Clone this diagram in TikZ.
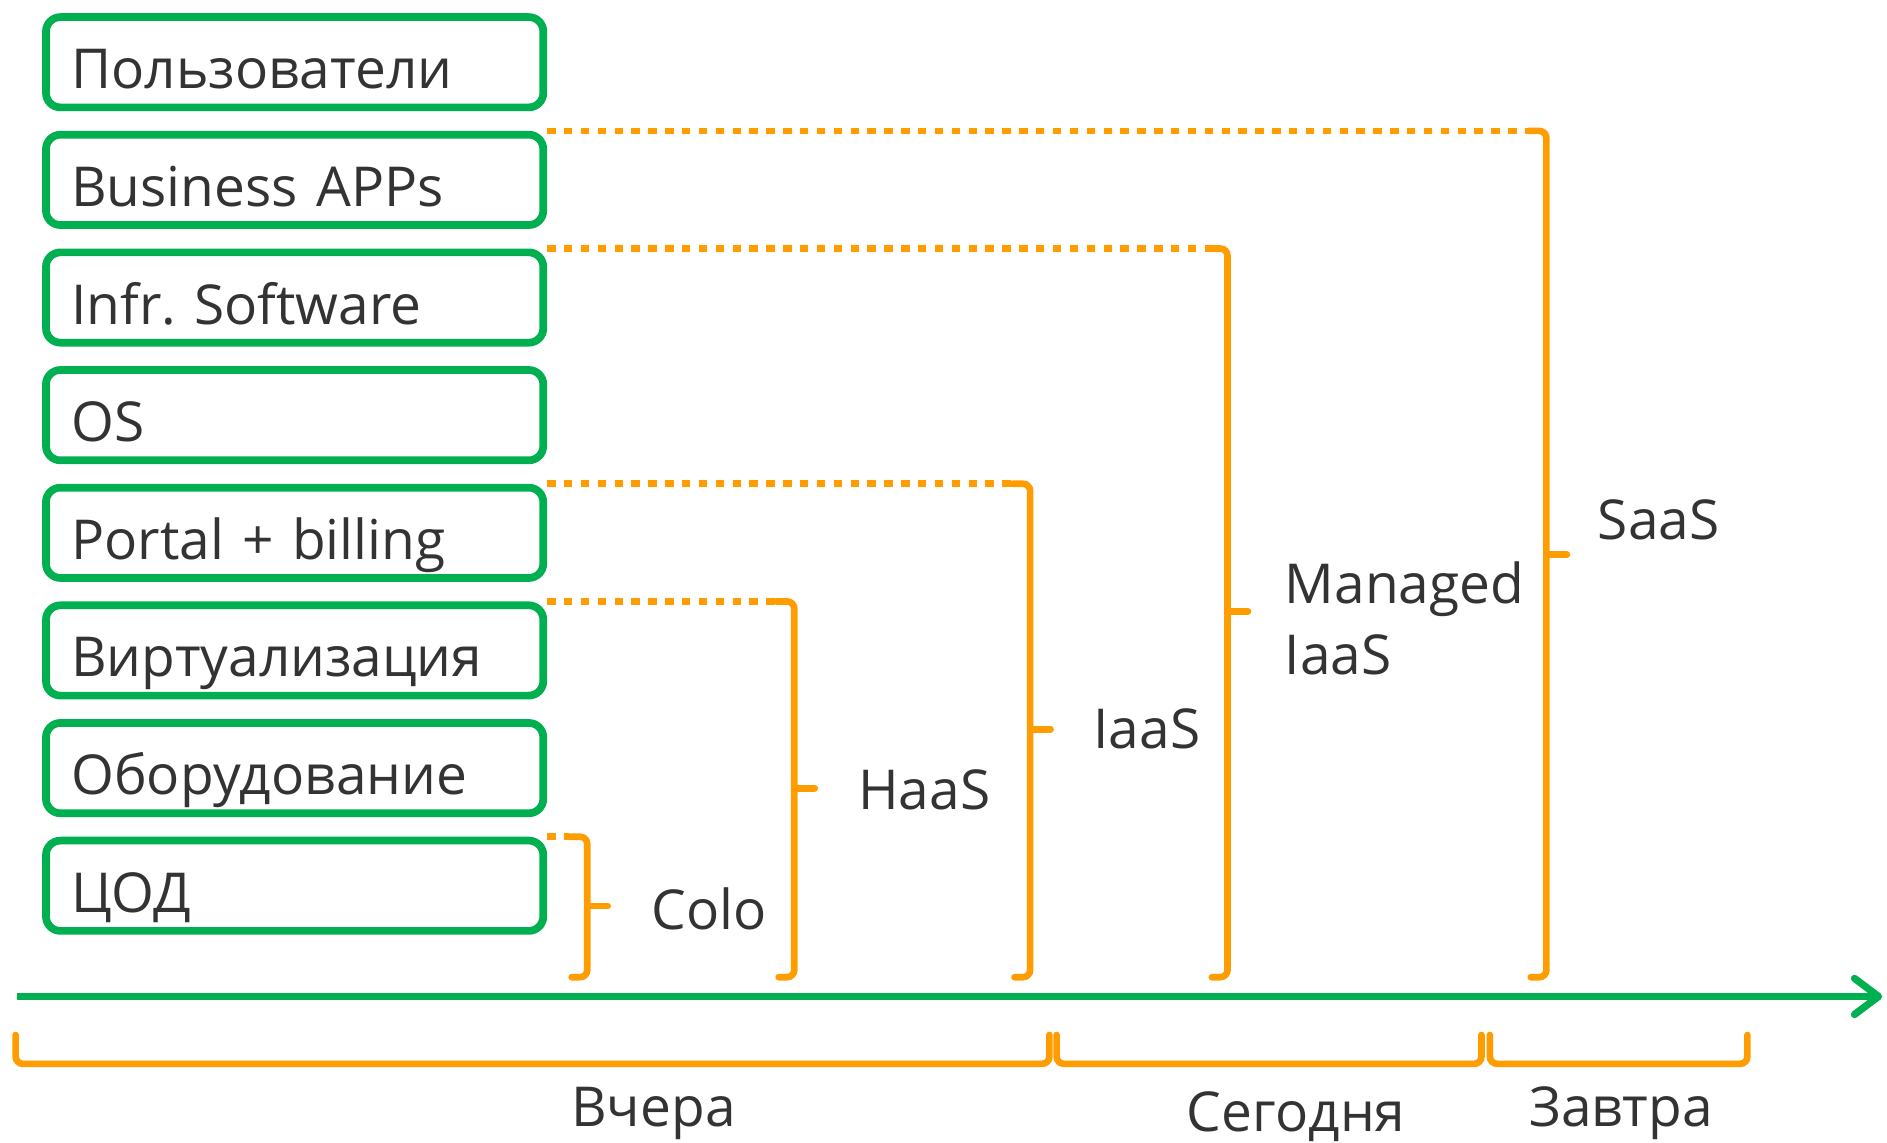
\documentclass[tikz,border=0pt]{standalone}
\usepackage{fontspec}
\setmainfont{Open Sans}
\usetikzlibrary{positioning,arrows.meta,calc}
\definecolor{grn}{HTML}{00B050}
\definecolor{org}{HTML}{FF9C00}
\definecolor{txt}{HTML}{333333}
\newcommand{\lbl}{\fontsize{13}{16.8}\selectfont}

\begin{document}
\begin{tikzpicture}[x=0.01cm,y=-0.01cm,
    lay/.style={draw=grn,line width=0.064cm,rounded corners=0.12cm,minimum width=4.13cm,minimum height=0.75cm,
      inner xsep=0.21cm,inner ysep=0pt,text width=3.71cm,align=left,text height=0.44cm,text depth=0pt,font=\lbl,text=txt},
    dots/.style={draw=org,line width=0.055cm,dash pattern=on 0.07cm off 0.07cm},
    br/.style={draw=org,line width=0.055cm,rounded corners=0.06cm,line cap=round},
    tag/.style={font=\lbl,text=txt,inner sep=0pt}]
  \useasboundingbox (0,0) rectangle (1568,949);
  % layers, top to bottom
  \node[lay,anchor=north west] (usr) at (35,11) {Пользователи};
  \node[lay,below=0.163cm of usr] (app) {Business APPs};
  \node[lay,below=0.163cm of app] (infr) {Infr.\ Software};
  \node[lay,below=0.163cm of infr] (os) {OS};
  \node[lay,below=0.163cm of os] (port) {Portal + billing};
  \node[lay,below=0.163cm of port] (virt) {Виртуализация};
  \node[lay,below=0.163cm of virt] (hw) {Оборудование};
  \node[lay,below=0.163cm of hw] (cod) {ЦОД};
  % time axis
  \coordinate (a0) at (14,828);
  \coordinate (a1) at (1564,828);
  \draw[grn,line width=0.06cm,-{Straight Barb[length=0.2cm,width=0.3cm,round]}] (a0) -- (a1);
  % service brackets
  \coordinate (bot) at (0,812);
  \foreach \n/\x/\m in {cod/488/753,virt/660/655,port/856/606,infr/1020/508,app/1285/461}{
    \coordinate (t) at (\n.north east -| \x,0);
    \draw[dots] (\n.north east) -- ([xshift=-0.15cm]t);
    \draw[br] ([xshift=-0.15cm]t) -- (t) -- (t |- bot) -- ++(-13,0);
    \draw[br] (\x,\m) -- ++(17,0);
  }
  \node[tag] (colo) at (589,755) {Colo};
  \node[tag] (haas) at (768,656) {HaaS};
  \node[tag] (iaas) at (953,606) {IaaS};
  \node[tag,align=left,anchor=west] (miaas) at (1067,514) {Managed\\IaaS};
  \node[tag,anchor=west] (saas) at (1327,432) {SaaS};
  % periods
  \draw[br] (13,860) |- (872,884) -- (872,860);
  \draw[br] (878,860) |- (1231,884) -- (1231,860);
  \draw[br] (1238,860) |- (1452,884) -- (1452,860);
  \node[tag] (vch) at (543,925) {Вчера};
  \node[tag] (seg) at (1077,928) {Сегодня};
  \node[tag] (zav) at (1347,925) {Завтра};
\end{tikzpicture}
\end{document}
